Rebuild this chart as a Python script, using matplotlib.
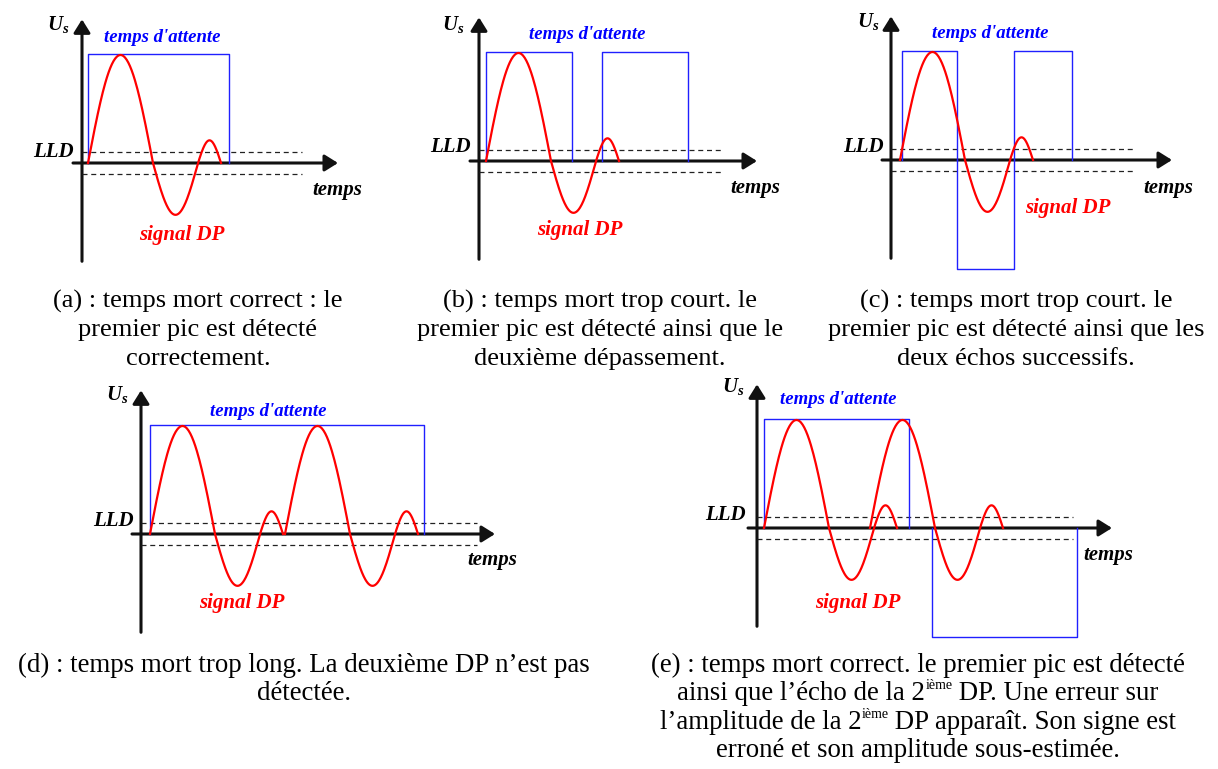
import numpy as np
import matplotlib.pyplot as plt

plt.rcParams['font.family'] = ['Liberation Serif', 'DejaVu Serif']
plt.rcParams['mathtext.fontset'] = 'custom'
plt.rcParams['mathtext.rm'] = 'Liberation Serif'
plt.rcParams['mathtext.it'] = 'Liberation Serif:italic:bold'
plt.rcParams['mathtext.bf'] = 'Liberation Serif:bold'

# forme d'une DP : lobes successifs (durée, amplitude normalisée au 1er pic)
dp_durees = [6.5, 4.5, 2.3]
dp_amplitudes = [1.0, -0.48, 0.21]
seuil_lld = 0.105
hauteur_fenetre = 1.01

# départs des DP et fenêtres "temps d'attente" (début, fin, signe) par panneau
dp_a = [0.6]
fen_a = [(0.6, 14.7, 1)]
dp_b = [0.7]
fen_b = [(0.7, 9.3, 1), (12.3, 20.9, 1)]
dp_c = [0.9]
fen_c = [(1.1, 6.6, 1), (6.6, 12.3, -1), (12.3, 18.1, 1)]
dp_d = [0.9, 14.4]
fen_d = [(0.9, 28.3, 1)]
dp_e = [0.7, 11.3]
fen_e = [(0.7, 15.2, 1), (17.5, 32.0, -1)]

# légendes : chaque ligne est une liste de morceaux (texte, exposant ?)
cap_a = [[("(a) : temps mort correct : le", False)],
         [("premier pic est détecté", False)],
         [("correctement.", False)]]
cap_b = [[("(b) : temps mort trop court. le", False)],
         [("premier pic est détecté ainsi que le", False)],
         [("deuxième dépassement.", False)]]
cap_c = [[("(c) : temps mort trop court. le", False)],
         [("premier pic est détecté ainsi que les", False)],
         [("deux échos successifs.", False)]]
cap_d = [[("(d) : temps mort trop long. La deuxième DP n’est pas", False)],
         [("détectée.", False)]]
cap_e = [[("(e) : temps mort correct. le premier pic est détecté", False)],
         [("ainsi que l’écho de la 2", False), ("ième", True), (" DP. Une erreur sur", False)],
         [("l’amplitude de la 2", False), ("ième", True), (" DP apparaît. Son signe est", False)],
         [("erroné et son amplitude sous-estimée.", False)]]

W, H = 1218, 769
PX_T, PX_U = 10.0, 108.0  # pixels par unité de temps / d'amplitude
fig = plt.figure(figsize=(W / 100, H / 100), dpi=100)
renderer = fig.canvas.get_renderer()

lab = dict(family='Liberation Serif', weight='bold', style='italic')


def signal_dp(t0):
    ts, ys = [], []
    t = t0
    for d, a in zip(dp_durees, dp_amplitudes):
        tt = np.linspace(t, t + d, 80)
        ts.append(tt)
        ys.append(a * np.sin(np.pi * (tt - t) / d))
        t += d
    return np.concatenate(ts), np.concatenate(ys)


def panneau(ox, oy, departs, fenetres, fin_tirets, fin_axe, txt):
    x0, x1, y0, y1 = -6, 37, -1.1, 1.5
    ax = fig.add_axes([(ox + x0 * PX_T) / W, (H - (oy - y0 * PX_U)) / H,
                       (x1 - x0) * PX_T / W, (y1 - y0) * PX_U / H])
    ax.set_xlim(x0, x1)
    ax.set_ylim(y0, y1)
    ax.axis('off')

    fl = dict(arrowstyle='-|>,head_length=0.4,head_width=0.25', lw=2.2,
              color='#111111', shrinkA=0, shrinkB=0, mutation_scale=20)
    ax.annotate('', xy=(fin_axe, 0), xytext=(-0.9, 0), arrowprops=fl, zorder=1)
    ax.annotate('', xy=(0, 1.33), xytext=(0, -0.91), arrowprops=fl, zorder=1)

    for s in (1, -1):
        ax.plot([0, fin_tirets], [s * seuil_lld] * 2, color='#222222', lw=0.9,
                dashes=(4, 3), zorder=1)

    for deb, fin, sg in fenetres:
        h = sg * hauteur_fenetre
        ax.plot([deb, deb, fin, fin], [0, h, h, 0], color='#2020ff', lw=1.0, zorder=2)

    for t0 in departs:
        t, u = signal_dp(t0)
        ax.plot(t, u, color='#ff0000', lw=1.6, zorder=3)

    ax.text(*txt['us'], '$U_s$', fontsize=15, ha='center', va='center', color='black')
    ax.text(*txt['att'], "temps d'attente", fontsize=13.5, ha='center', va='center',
            color='#0000ff', **lab)
    ax.text(*txt['lld'], 'LLD', fontsize=15, ha='center', va='center', color='black', **lab)
    ax.text(*txt['t'], 'temps', fontsize=15, ha='center', va='center', color='black', **lab)
    ax.text(*txt['sig'], 'signal DP', fontsize=15, ha='center', va='center',
            color='#ff0000', **lab)


panneau(82, 163, dp_a, fen_a, 22.0, 25.6,
        dict(us=(-2.4, 1.28), att=(8.0, 1.16), lld=(-2.9, 0.10), t=(25.5, -0.25),
             sig=(10.0, -0.67)))
panneau(479, 161, dp_b, fen_b, 24.2, 27.8,
        dict(us=(-2.6, 1.26), att=(10.8, 1.17), lld=(-2.9, 0.13), t=(27.6, -0.25),
             sig=(10.1, -0.64)))
panneau(891, 160, dp_c, fen_c, 24.2, 28.1,
        dict(us=(-2.3, 1.28), att=(9.9, 1.17), lld=(-2.8, 0.12), t=(27.7, -0.26),
             sig=(17.7, -0.44)))
panneau(141, 534, dp_d, fen_d, 33.6, 35.4,
        dict(us=(-2.4, 1.29), att=(12.7, 1.13), lld=(-2.8, 0.12), t=(35.1, -0.24),
             sig=(10.1, -0.64)))
panneau(757, 528, dp_e, fen_e, 31.6, 35.5,
        dict(us=(-2.4, 1.31), att=(8.1, 1.19), lld=(-3.2, 0.12), t=(35.1, -0.25),
             sig=(10.1, -0.69)))


def legende(lignes, xc, y_base, taille):
    for i, morceaux in enumerate(lignes):
        yb = y_base + 28.3 * i
        objets = []
        for texte, sup in morceaux:
            t = fig.text(0, 0, texte, fontsize=taille * 0.52 if sup else taille,
                         ha='left', va='baseline', color='black')
            objets.append((t, sup, t.get_window_extent(renderer).width))
        x = xc - sum(w for _, _, w in objets) / 2
        for t, sup, w in objets:
            t.set_position((x / W, 1 - (yb - (11 if sup else 0)) / H))
            x += w


legende(cap_a, 198, 308, 19)
legende(cap_b, 600, 308, 19)
legende(cap_c, 1016, 308, 19)
legende(cap_d, 304, 672, 19.4)
legende(cap_e, 918, 672, 19.4)

fig.savefig('out.png', dpi=100)
